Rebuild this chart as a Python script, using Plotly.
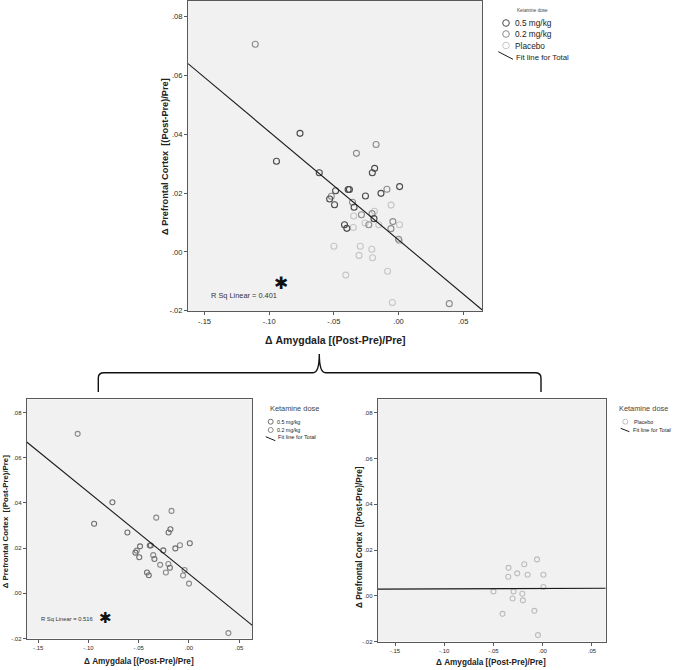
import plotly.graph_objects as go

# ---------------- data ----------------
dose05_x = [-0.0762, -0.0944, -0.0613, -0.0185, -0.0203, -0.0390, -0.0380, -0.0487, -0.0533,
            -0.0256, -0.0136, 0.0008, -0.0495, -0.0344, -0.0190, -0.0418, -0.0400]
dose05_y = [0.0403, 0.0308, 0.0269, 0.0284, 0.0269, 0.0212, 0.0212, 0.0208, 0.0180,
            0.0190, 0.0199, 0.0222, 0.0160, 0.0152, 0.0113, 0.0092, 0.0080]

dose02_x = [-0.1108, -0.0326, -0.0174, -0.0520, -0.0090, -0.0356, -0.0205, -0.0287, -0.0230,
            -0.0044, -0.0059, 0.0000, 0.0392]
dose02_y = [0.0706, 0.0335, 0.0365, 0.0189, 0.0213, 0.0169, 0.0130, 0.0126, 0.0092,
            0.0103, 0.0079, 0.0043, -0.0176]

placebo_x = [-0.0058, -0.0187, -0.0347, -0.0259, -0.0153, -0.0350, 0.0007, 0.0007, -0.0500,
             -0.0296, -0.0207, -0.0306, -0.0201, -0.0085, -0.0408, -0.0048]
placebo_y = [0.0159, 0.0138, 0.0122, 0.0098, 0.0092, 0.0083, 0.0092, 0.0038, 0.0019,
             0.0019, 0.0009, -0.0012, -0.0020, -0.0066, -0.0079, -0.0172]

# fit lines (endpoints at the axis edges)
fit_total_x = [-0.1628, 0.0645]
fit_total_y = [0.0640, -0.0197]
fit_ket_x = [-0.1615, 0.0630]
fit_ket_y = [0.0670, -0.0142]
fit_plc_x = [-0.1676, 0.0640]
fit_plc_y = [0.0029, 0.0033]

r2_total = "R Sq Linear = 0.401"
r2_ket = "R Sq Linear = 0.516"

x_tickvals = [-0.15, -0.10, -0.05, 0.0, 0.05]
x_ticktext = ["-.15", "-.10", "-.05", ".00", ".05"]
y_tickvals = [-0.02, 0.0, 0.02, 0.04, 0.06, 0.08]
y_ticktext = ["-.02", ".00", ".02", ".04", ".06", ".08"]

legend_title = "Ketamine dose"
lab05, lab02, labplc, labfit = "0.5 mg/kg", "0.2 mg/kg", "Placebo", "Fit line for Total"
x_title = "Δ Amygdala [(Post-Pre)/Pre]"
y_title = "Δ Prefrontal Cortex\u00a0\u00a0[(Post-Pre)/Pre]"

# ---------------- layout helpers ----------------
W, H = 675, 670
FONT = "Liberation Sans, Arial, sans-serif"


def px(x):
    return x / W


def py(y):
    return 1 - y / H


fig = go.Figure()

C05_TOP, C02_TOP, CPL_TOP = "#4a4a4a", "#8c8c8c", "#c6c6c6"
C05_BL, C02_BL, CPL_BR = "#6e6e6e", "#8a8a8a", "#bdbdbd"
FITC = "#1a1a1a"


def pts(x, y, color, size, xa, ya):
    fig.add_trace(go.Scatter(x=x, y=y, mode="markers", xaxis=xa, yaxis=ya, showlegend=False,
                             marker=dict(symbol="circle-open", size=size,
                                         color=color, line=dict(color=color, width=1.1))))


def fit(x, y, xa, ya):
    fig.add_trace(go.Scatter(x=x, y=y, mode="lines", xaxis=xa, yaxis=ya, showlegend=False,
                             line=dict(color=FITC, width=1.1)))


# top panel (all groups)
pts(placebo_x, placebo_y, CPL_TOP, 6, "x", "y")
pts(dose02_x, dose02_y, C02_TOP, 6, "x", "y")
pts(dose05_x, dose05_y, C05_TOP, 6, "x", "y")
fit(fit_total_x, fit_total_y, "x", "y")

# bottom-left (ketamine)
pts(dose02_x, dose02_y, C02_BL, 5, "x2", "y2")
pts(dose05_x, dose05_y, C05_BL, 5, "x2", "y2")
fit(fit_ket_x, fit_ket_y, "x2", "y2")

# bottom-right (placebo)
pts(placebo_x, placebo_y, CPL_BR, 5, "x3", "y3")
fit(fit_plc_x, fit_plc_y, "x3", "y3")


def xaxis(dom, rng, fs):
    return dict(domain=[px(dom[0]), px(dom[1])], range=rng, tickvals=x_tickvals, ticktext=x_ticktext,
                showgrid=False, zeroline=False, showline=True, mirror=True, linecolor="#5a5a5a",
                linewidth=1, ticks="outside", ticklen=3, tickcolor="#5a5a5a", tickwidth=1,
                tickfont=dict(family=FONT, size=fs, color="#2a2a2a"))


def yaxis(dom, rng, fs, anchor):
    return dict(domain=[py(dom[1]), py(dom[0])], range=rng, tickvals=y_tickvals, ticktext=y_ticktext,
                showgrid=False, zeroline=False, showline=True, mirror=True, linecolor="#5a5a5a",
                linewidth=1, ticks="outside", ticklen=3, tickcolor="#5a5a5a", tickwidth=1,
                tickfont=dict(family=FONT, size=fs, color="#2a2a2a"), anchor=anchor)


fig.update_layout(
    template="none",
    font=dict(family=FONT, color="#222"),
    width=W, height=H, margin=dict(l=0, r=0, t=0, b=0, pad=0),
    paper_bgcolor="white", plot_bgcolor="#f1f1f1", showlegend=False,
    xaxis=dict(xaxis([188, 482], [-0.1628, 0.0645], 7.6), anchor="y"),
    yaxis=yaxis([1, 311], [-0.0201, 0.0853], 7.6, "x"),
    xaxis2=dict(xaxis([26.7, 252.3], [-0.1615, 0.0630], 6), anchor="y2"),
    yaxis2=yaxis([399.3, 638.5], [-0.0200, 0.0859], 6, "x2"),
    xaxis3=dict(xaxis([377.7, 605.7], [-0.1676, 0.0640], 6), anchor="y3"),
    yaxis3=yaxis([399.3, 641.5], [-0.0200, 0.0859], 6, "x3"),
)

ann = []
shapes = []


def text(x, y, s, size, color="#222", bold=False, angle=0, xanchor="center"):
    ann.append(dict(x=px(x), y=py(y), xref="paper", yref="paper", text=("<b>%s</b>" % s) if bold else s,
                    showarrow=False, textangle=angle, xanchor=xanchor, yanchor="middle",
                    font=dict(family=FONT, size=size, color=color)))


# axis titles
text(335, 340.5, x_title, 10.5, bold=True)
text(165, 157, y_title, 9.2, bold=True, angle=-90)
text(138.7, 661, x_title, 8.2, bold=True)
text(5.5, 521.7, y_title, 7.8, bold=True, angle=-90)
text(491, 662, x_title, 8.2, bold=True)
text(358.3, 536.7, y_title, 8.3, bold=True, angle=-90)

# R squared labels and asterisks
text(209, 295, r2_total, 7.4, color="#333", xanchor="left")
text(38.5, 619.3, r2_ket, 5.8, color="#333", xanchor="left")
text(281, 284, "✱", 17, color="#111")
text(105, 617, "✱", 15, color="#111")


def circ(cx, cy, r, color):
    shapes.append(dict(type="circle", xref="paper", yref="paper", x0=px(cx - r), x1=px(cx + r),
                       y0=py(cy + r), y1=py(cy - r), line=dict(color=color, width=1)))


def seg(x0, y0, x1, y1, w=1):
    shapes.append(dict(type="line", xref="paper", yref="paper", x0=px(x0), x1=px(x1), y0=py(y0), y1=py(y1),
                       line=dict(color=FITC, width=w)))


# top legend
text(515, 10, legend_title, 4.6, color="#444", xanchor="left")
circ(506, 23, 3.3, C05_TOP)
text(513, 23, lab05, 8.3, xanchor="left")
circ(506, 34, 3.3, C02_TOP)
text(513, 34, lab02, 8.3, xanchor="left")
circ(506, 45.5, 3.3, CPL_TOP)
text(513, 45.5, labplc, 8.3, xanchor="left")
seg(498.3, 51.7, 513, 59.3)
text(513.5, 57, labfit, 7.8, xanchor="left")

# bottom-left legend
text(268, 408.3, legend_title, 7.4, color="#444", xanchor="left")
circ(270.7, 421.7, 2.5, C05_BL)
text(275.3, 421.7, lab05, 5.3, xanchor="left")
circ(270.7, 430, 2.5, C02_BL)
text(275.3, 430, lab02, 5.3, xanchor="left")
seg(265.7, 436.7, 275.3, 440.7)
text(276, 437, labfit, 5.6, xanchor="left")

# bottom-right legend
text(616.7, 408.3, legend_title, 7.4, color="#444", xanchor="left")
circ(625.3, 421.7, 2.5, CPL_BR)
text(631.5, 421.7, labplc, 5.3, xanchor="left")
seg(620.7, 428.3, 629.3, 431.7)
text(630.7, 429.5, labfit, 5.6, xanchor="left")

# brace connecting top panel to bottom panels
pts_b = [(98.3, 392), (98.3, 378), (104, 372.7), (313, 372.7), (319.3, 372.7), (319.3, 354),
         (319.3, 372.7), (325.6, 372.7), (535, 372.7), (541, 372.7), (541, 378), (541, 392)]
P = [(px(a), py(b)) for a, b in pts_b]
path = ("M %f,%f L %f,%f Q %f,%f %f,%f L %f,%f Q %f,%f %f,%f Q %f,%f %f,%f L %f,%f Q %f,%f %f,%f L %f,%f" % (
    P[0] + P[1] + (px(98.3), py(372.7)) + P[2] + P[3] + P[4] + P[5] + P[6] + P[7] + P[8]
    + (px(541), py(372.7)) + P[10] + P[11]))
shapes.append(dict(type="path", xref="paper", yref="paper", path=path, line=dict(color="#111", width=1.4)))

fig.update_layout(annotations=ann, shapes=shapes)

fig.write_html("out.html", config={"displayModeBar": False},
               post_script="document.body.style.margin='0';document.body.style.overflow='hidden';")
